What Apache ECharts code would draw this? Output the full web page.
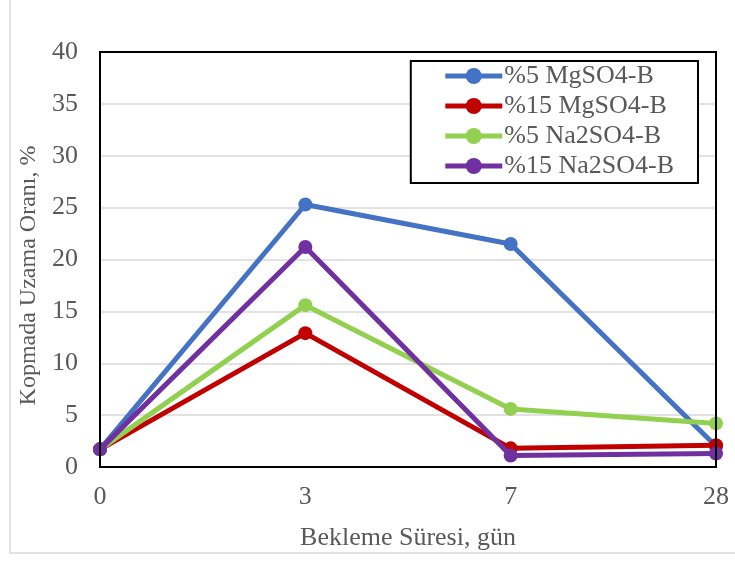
<!DOCTYPE html>
<html><head><meta charset="utf-8">
<script src="https://cdn.jsdelivr.net/npm/echarts@6/dist/echarts.min.js"></script>
<style>html,body{margin:0;padding:0;background:#fff}#c{width:735px;height:561px}</style>
</head><body><div id="c"></div>
<script>
const categories = ['0', '3', '7', '28'];
const seriesNames = ['%5 MgSO4-B', '%15 MgSO4-B', '%5 Na2SO4-B', '%15 Na2SO4-B'];
const mg5 = [1.7, 25.3, 21.5, 2.0];
const mg15 = [1.7, 12.9, 1.8, 2.1];
const na5 = [1.7, 15.6, 5.6, 4.2];
const na15 = [1.7, 21.2, 1.1, 1.3];
const colors = ['#4472C4', '#C00000', '#92D050', '#7030A0'];
const seriesData = [mg5, mg15, na5, na15];

const font = '"Liberation Serif", "Times New Roman", serif';
const chart = echarts.init(document.getElementById('c'));
chart.setOption({
  animation: false,
  graphic: [
    { type: 'rect', shape: { x: 10, y: -2, width: 740, height: 555 }, style: { fill: 'none', stroke: '#d9d9d9', lineWidth: 1.5 }, z: -1 },
    { type: 'rect', shape: { x: 100, y: 52, width: 616, height: 415 }, style: { fill: 'none', stroke: '#000', lineWidth: 2 }, z: 10 }
  ],
  grid: { left: 100, top: 52, width: 616, height: 415, containLabel: false },
  legend: {
    right: 37, top: 61, orient: 'vertical',
    itemWidth: 57, itemHeight: 20, itemGap: 4,
    padding: [2, 24, 4, 32],
    borderColor: '#000', borderWidth: 2,
    backgroundColor: '#fff',
    data: seriesNames,
    lineStyle: { width: 5 },
    textStyle: { fontFamily: font, fontSize: 26, color: '#595959', padding: [0, 0, 0, -3] }
  },
  xAxis: {
    type: 'category', data: categories, boundaryGap: false,
    name: 'Bekleme Süresi, gün', nameLocation: 'middle', nameGap: 58,
    nameTextStyle: { fontFamily: font, fontSize: 26, color: '#595959' },
    axisLine: { lineStyle: { color: '#000', width: 2 } },
    axisTick: { show: false },
    axisLabel: { fontFamily: font, fontSize: 26, color: '#595959', margin: 17 },
    splitLine: { show: false }
  },
  yAxis: {
    type: 'value', min: 0, max: 40, interval: 5,
    name: 'Kopmada Uzama Oranı, %', nameLocation: 'middle', nameGap: 53,
    nameTextStyle: { fontFamily: font, fontSize: 24, color: '#595959', padding: [0, 32, 0, 0] },
    axisLine: { show: true, lineStyle: { color: '#000', width: 2 } },
    axisTick: { show: false },
    axisLabel: { fontFamily: font, fontSize: 26, color: '#595959', margin: 22 },
    splitLine: { lineStyle: { color: '#d9d9d9', width: 1.5 } }
  },
  series: seriesNames.map((n, i) => ({
    name: n, type: 'line', data: seriesData[i],
    symbol: 'circle', symbolSize: 14,
    lineStyle: { width: 5, color: colors[i] },
    itemStyle: { color: colors[i] },
    z: 2 + i
  }))
});
</script></body></html>
